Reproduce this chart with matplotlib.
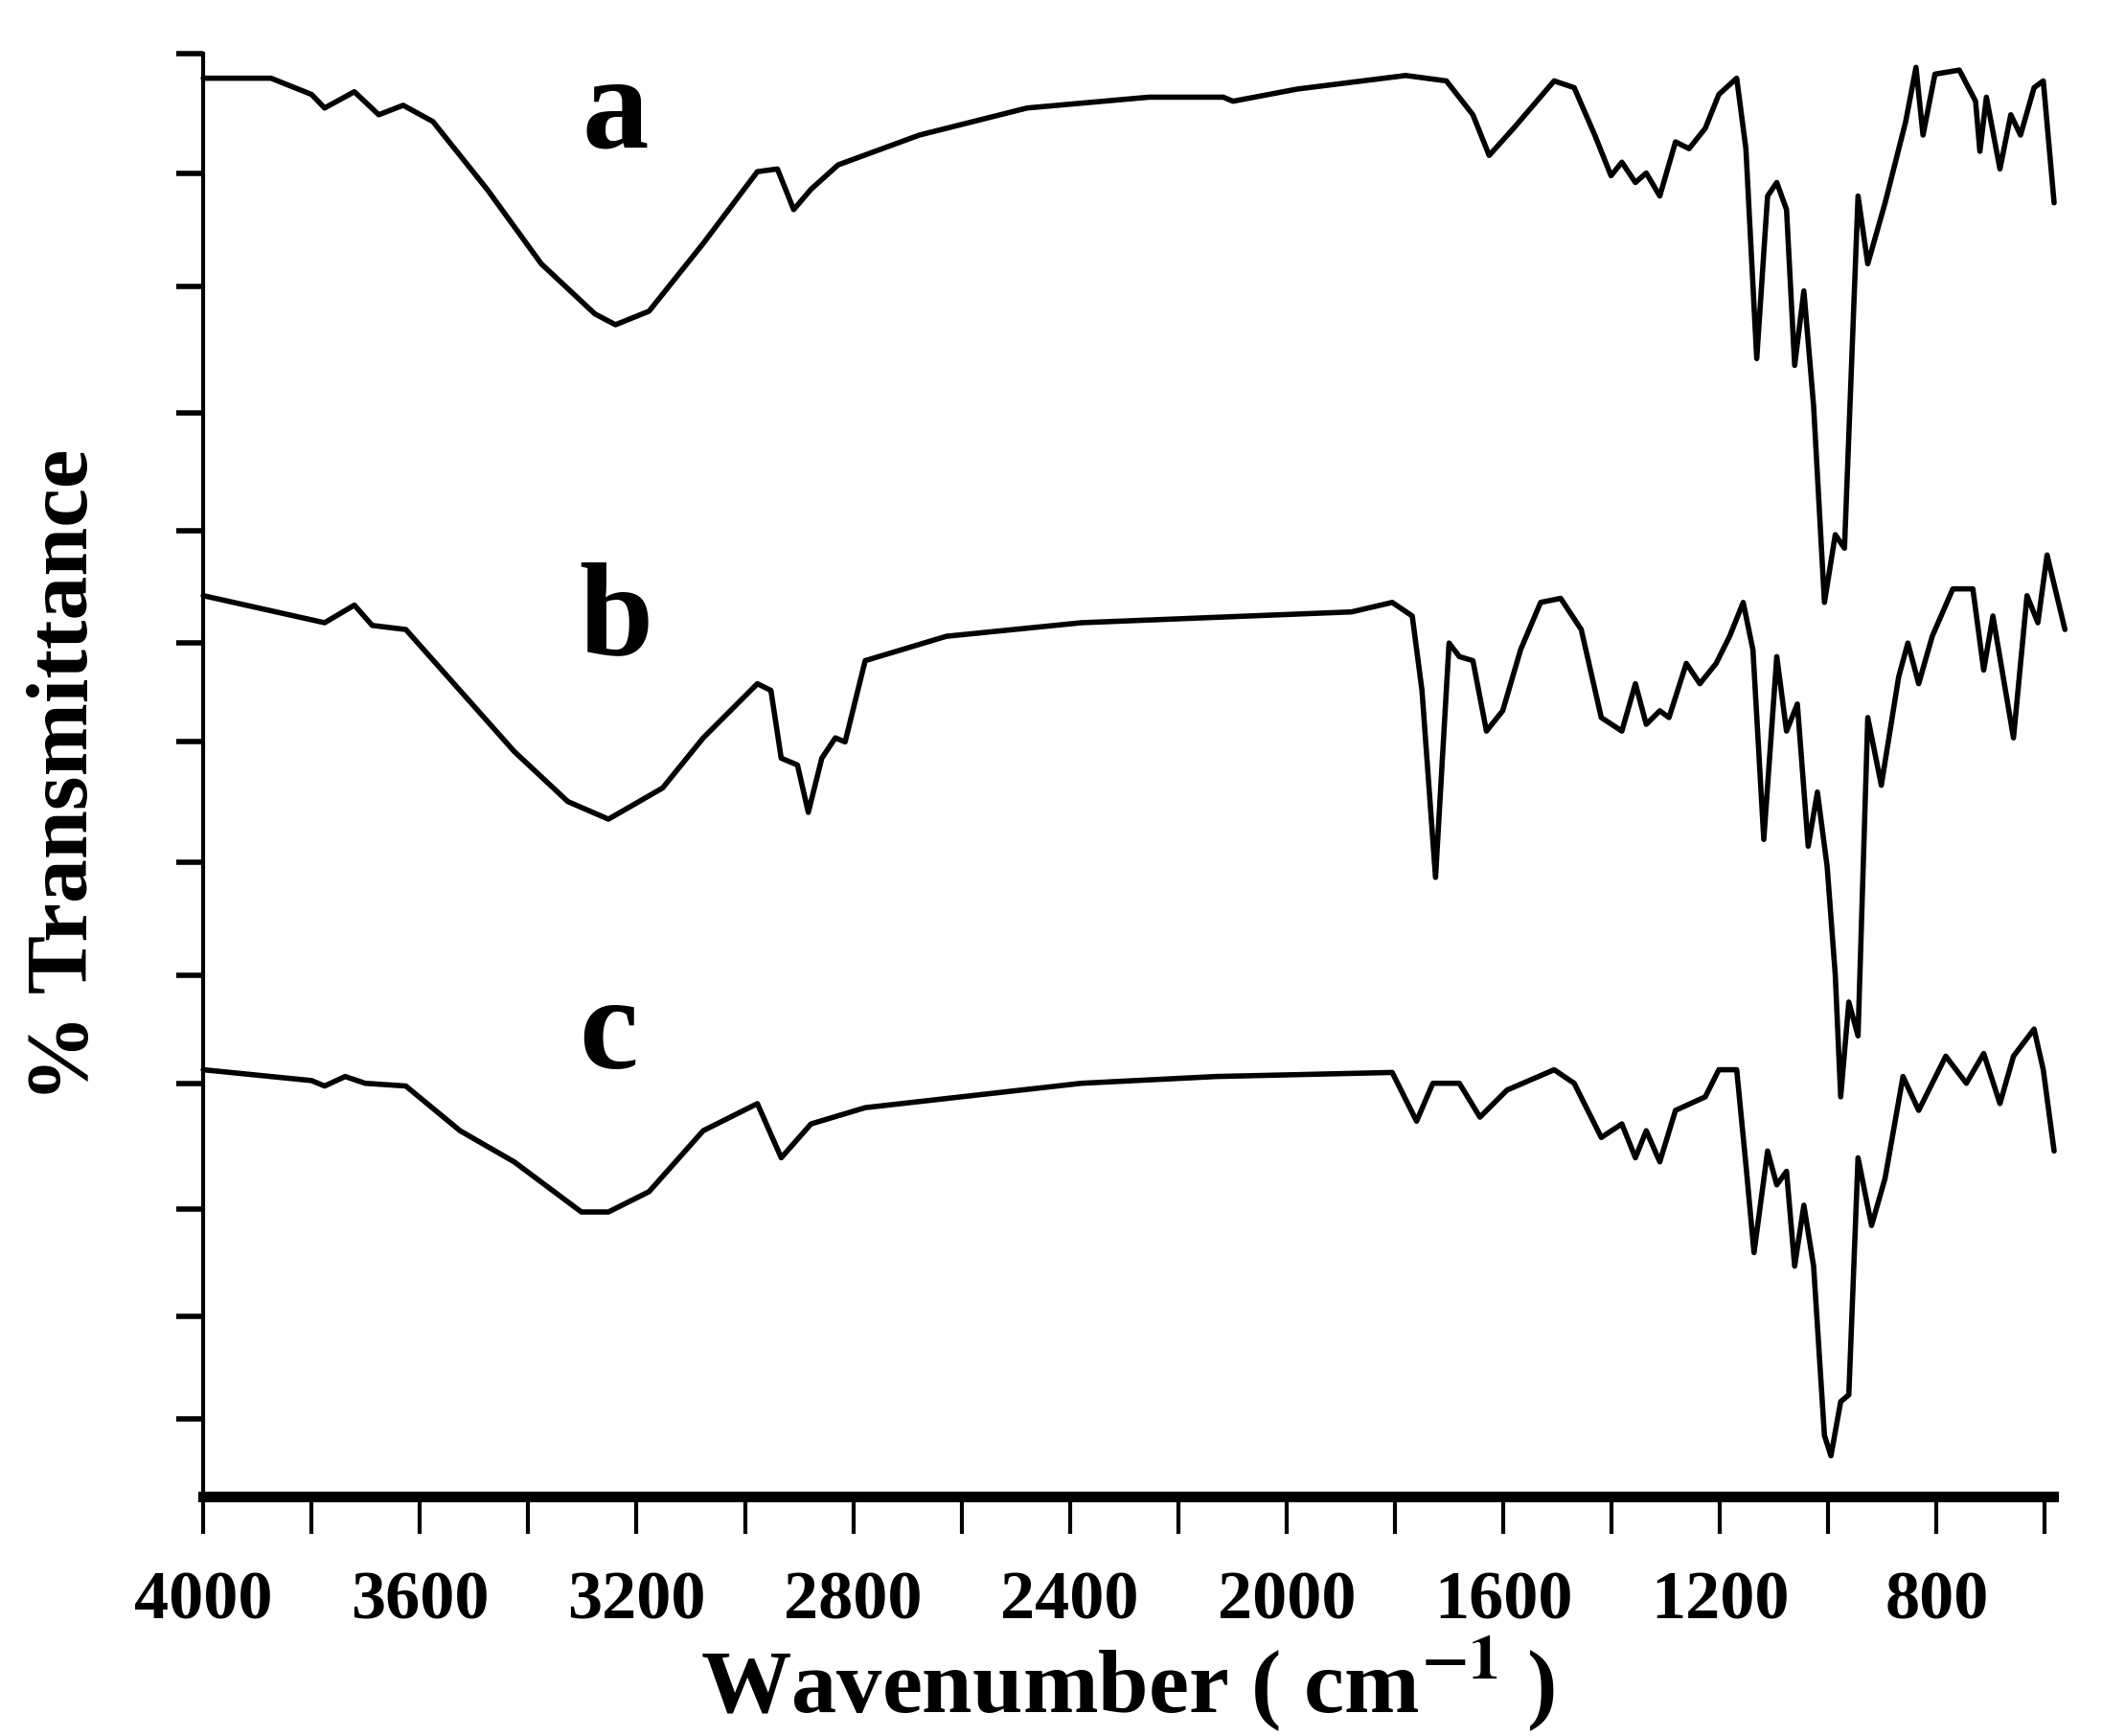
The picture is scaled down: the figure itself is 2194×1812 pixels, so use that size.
import matplotlib
matplotlib.use("Agg")
import matplotlib.pyplot as plt

# wavenumber (cm-1) and transmittance (arbitrary, offset)
wn_a = [4000, 3875, 3800, 3776, 3721, 3676, 3631, 3576, 3476, 3376, 3277, 3239, 3177, 3077, 2977,
        2940, 2910, 2878, 2828, 2678, 2479, 2254, 2117, 2099, 1980, 1780, 1705, 1656, 1626, 1581,
        1506, 1469, 1431, 1401, 1381, 1356, 1336, 1311, 1282, 1257, 1227, 1202, 1169, 1152, 1132,
        1112, 1095, 1077, 1062, 1045, 1027, 1007, 987, 970, 945, 927, 895, 857, 838, 825, 803,
        758, 728, 720, 708, 683, 663, 645, 620, 603, 583]
t_a = [104.7, 104.7, 103.5, 102.5, 103.7, 102.0, 102.7, 101.5, 96.5, 91.0, 87.3, 86.5, 87.5, 92.5, 97.8,
       98.0, 95.0, 96.5, 98.3, 100.5, 102.5, 103.3, 103.3, 103.0, 103.9, 104.9, 104.5, 102.0, 99.0, 101.0,
       104.5, 104.0, 100.5, 97.5, 98.5, 97.0, 97.7, 96.0, 100.0, 99.5, 101.0, 103.5, 104.7, 99.5, 84.0,
       96.0, 97.0, 95.0, 83.5, 89.0, 80.5, 66.0, 71.0, 70.0, 96.0, 91.0, 95.5, 101.5, 105.5, 100.5, 105.0,
       105.3, 103.0, 99.3, 103.3, 98.0, 102.0, 100.5, 104.0, 104.5, 95.5]

wn_b = [4000, 3776, 3721, 3688, 3626, 3526, 3426, 3327, 3252, 3152, 3077, 2977, 2952, 2933, 2903,
        2883, 2858, 2833, 2815, 2778, 2628, 2379, 2130, 1880, 1805, 1768, 1750, 1725, 1700, 1681,
        1656, 1631, 1601, 1568, 1531, 1494, 1456, 1419, 1381, 1356, 1336, 1311, 1294, 1262, 1237,
        1207, 1182, 1157, 1139, 1119, 1095, 1077, 1057, 1037, 1020, 1002, 987, 977, 962, 945, 927,
        902, 870, 853, 833, 808, 770, 733, 713, 696, 658, 633, 613, 596, 563]
t_b = [66.5, 64.5, 65.8, 64.3, 64.0, 59.5, 55.0, 51.3, 50.0, 52.3, 56.0, 60.0, 59.5, 54.5, 54.0,
       50.5, 54.5, 56.0, 55.7, 61.7, 63.5, 64.5, 64.9, 65.3, 66.0, 65.0, 59.5, 45.7, 63.0, 62.0,
       61.7, 56.5, 58.0, 62.5, 66.0, 66.3, 64.0, 57.5, 56.5, 60.0, 57.0, 58.0, 57.5, 61.5, 60.0,
       61.5, 63.5, 66.0, 62.5, 48.5, 62.0, 56.5, 58.5, 48.0, 52.0, 46.5, 38.5, 29.5, 36.5, 34.0, 57.5,
       52.5, 60.5, 63.0, 60.0, 63.5, 67.0, 67.0, 61.0, 65.0, 56.0, 66.5, 64.5, 69.5, 64.0]

wn_c = [4000, 3800, 3776, 3738, 3701, 3626, 3526, 3426, 3302, 3252, 3177, 3077, 2977, 2933, 2878,
        2778, 2379, 2130, 1805, 1760, 1730, 1681, 1643, 1593, 1506, 1469, 1419, 1381, 1356, 1336,
        1311, 1282, 1227, 1202, 1169, 1152, 1137, 1112, 1095, 1077, 1062, 1045, 1027, 1007, 995,
        977, 962, 945, 920, 895, 862, 833, 783, 745, 713, 683, 658, 620, 603, 583]
t_c = [31.5, 30.7, 30.3, 31.0, 30.5, 30.3, 27.0, 24.7, 21.0, 21.0, 22.5, 27.0, 29.0, 25.0, 27.5,
       28.7, 30.5, 31.0, 31.3, 27.7, 30.5, 30.5, 28.0, 30.0, 31.5, 30.5, 26.5, 27.5, 25.0, 27.0,
       24.7, 28.5, 29.5, 31.5, 31.5, 24.5, 18.0, 25.5, 23.0, 24.0, 17.0, 21.5, 17.0, 4.5, 3.0,
       7.0, 7.5, 25.0, 20.0, 23.5, 31.0, 28.5, 32.5, 30.5, 32.7, 29.0, 32.5, 34.5, 31.5, 25.5]

curve_labels = ["a", "b", "c"]
label_pos = [(3239, 102.0), (3239, 64.5), (3252, 34.0)]
y_ticks = [106.5, 97.7, 89.3, 80, 71.3, 63, 55.7, 46.8, 38.5, 30.5, 21.2, 13.3, 5.7]

plt.rcParams['font.family'] = ['Liberation Serif', 'DejaVu Serif']
plt.rcParams['font.weight'] = 'bold'
plt.rcParams['mathtext.fontset'] = 'stix'

fig = plt.figure(figsize=(21.94, 18.12), dpi=100)
ax = fig.add_axes([0.0967, 0.138, 0.880, 0.831])

for wn, t in [(wn_a, t_a), (wn_b, t_b), (wn_c, t_c)]:
    ax.plot(wn, t, color='black', lw=4, clip_on=False,
            solid_joinstyle='round', solid_capstyle='round')

for lab, (x, y) in zip(curve_labels, label_pos):
    ax.text(x, y, lab, fontsize=100, fontweight='bold', ha='center', va='center')

ax.set_xlim(4000, 585)
ax.set_ylim(0, 106.5)
ax.set_xticks(range(4000, 599, -200))
ax.set_xticklabels([str(v) if (4000 - v) % 400 == 0 else "" for v in range(4000, 599, -200)])
ax.set_yticks(y_ticks)
ax.set_yticklabels([])

for s in ['top', 'right']:
    ax.spines[s].set_visible(False)
ax.spines['bottom'].set_linewidth(8)
ax.spines['left'].set_linewidth(3)
ax.tick_params(axis='x', length=28, width=3, direction='out', labelsize=52, pad=28)
ax.tick_params(axis='y', length=20, width=4, direction='out')

ax.set_xlabel("Wavenumber ( cm$^{\\mathbf{-1}}$ )", fontsize=68, fontweight='bold', labelpad=0)
ax.set_ylabel("% Transmittance", fontsize=66, fontweight='bold', labelpad=50)

fig.savefig("out.png", dpi=100)
